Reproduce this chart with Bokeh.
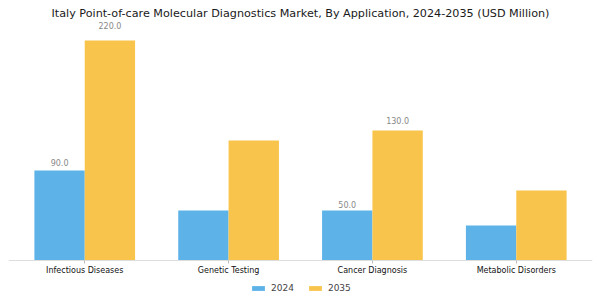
from bokeh.plotting import figure
from bokeh.models import ColumnDataSource, Legend, LegendItem, FixedTicker, Range1d
from bokeh.core.properties import value
from bokeh.embed import file_html
from bokeh.resources import INLINE

categories = ["Infectious Diseases", "Genetic Testing", "Cancer Diagnosis", "Metabolic Disorders"]
values_2024 = [90, 50, 50, 35]
values_2035 = [220, 120, 130, 70]
labels_2024 = ["90.0", "", "50.0", ""]
labels_2035 = ["220.0", "", "130.0", ""]
series_names = ["2024", "2035"]
colors = ["#5DB3E8", "#F9C44C"]

FONT = "DejaVu Sans"
idx = list(range(len(categories)))
bw = 0.35

p = figure(width=600, height=300, output_backend="svg", toolbar_location=None,
           x_range=Range1d(-0.53, len(categories) - 0.47), y_range=Range1d(-40, 240),
           min_border_left=8, min_border_right=8, min_border_top=20, min_border_bottom=0)
p.title.text = "Italy Point-of-care Molecular Diagnostics Market, By Application, 2024-2035 (USD Million)"
p.title.align = "center"
p.title.text_font = FONT
p.title.text_font_size = "11.2px"
p.title.text_font_style = "normal"
p.title.text_color = "#1a1a1a"
p.title.standoff = 2
p.title.offset = 0
p.outline_line_color = None
p.background_fill_color = "white"
p.border_fill_color = "white"

src1 = ColumnDataSource(dict(x=[i - bw / 2 for i in idx], top=values_2024, lab=labels_2024,
                             ly=[v * 1.05 + 4 for v in values_2024]))
src2 = ColumnDataSource(dict(x=[i + bw / 2 for i in idx], top=values_2035, lab=labels_2035,
                             ly=[v * 1.05 + 4 for v in values_2035]))
r1 = p.vbar(x="x", top="top", width=bw, source=src1, fill_color=colors[0], line_color=None)
r2 = p.vbar(x="x", top="top", width=bw, source=src2, fill_color=colors[1], line_color=None)
for s in (src1, src2):
    p.text(x="x", y="ly", text="lab", source=s, text_align="center", text_baseline="middle",
           text_font=value(FONT), text_font_size="8px", text_color="#888888")

p.yaxis.visible = False
p.ygrid.visible = False
p.xgrid.visible = False
p.xaxis.fixed_location = 0
p.xaxis.ticker = FixedTicker(ticks=idx)
p.xaxis.major_label_overrides = {i: c for i, c in enumerate(categories)}
p.xaxis.major_label_text_font = FONT
p.xaxis.major_label_text_font_size = "8px"
p.xaxis.major_label_text_color = "#111111"
p.xaxis.axis_line_color = "#dddddd"
p.xaxis.major_tick_line_color = "#bbbbbb"
p.xaxis.major_tick_in = 0
p.xaxis.major_tick_out = 3
p.xaxis.minor_tick_line_color = None
p.xaxis.major_label_standoff = 2

legend = Legend(items=[LegendItem(label=series_names[0], renderers=[r1]),
                       LegendItem(label=series_names[1], renderers=[r2])],
                orientation="horizontal", location=(242, 7), border_line_color=None,
                background_fill_alpha=0,
                label_text_font=FONT, label_text_font_size="9px", glyph_width=16, glyph_height=6,
                label_height=10, spacing=13, padding=0, margin=0, label_standoff=5)
p.add_layout(legend, "center")

open("out.html", "w").write(file_html(p, INLINE))
